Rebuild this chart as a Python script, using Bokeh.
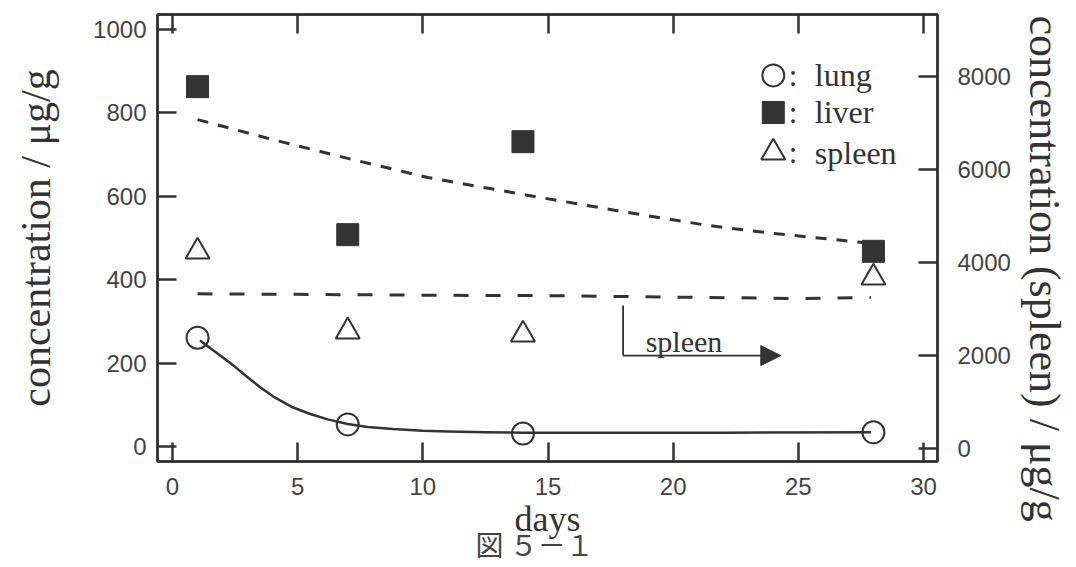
from bokeh.plotting import figure
from bokeh.models import LinearAxis, Range1d, FixedTicker, Label, Arrow, NormalHead, Title
from bokeh.core.properties import value
from bokeh.embed import file_html
from bokeh.resources import INLINE

# ---- data ----
days = [1, 7, 14, 28]
lung = [261, 53, 31, 34]            # left axis, µg/g
liver = [863, 508, 731, 468]        # left axis, µg/g
spleen = [4240, 2520, 2455, 3680]   # right axis, µg/g

lung_fit_days = [1.1, 1.5, 2.0, 2.5, 3.0, 3.5, 4.1, 4.8, 5.5, 6.2, 7, 7.8, 8.8, 10, 11, 12.5, 14, 18, 22, 27.9]
lung_fit = [254, 236, 214, 191, 166, 142, 117, 94, 78, 65, 54, 47, 42, 38, 36, 34, 33, 33, 33, 34]

liver_fit_days = [1, 4, 7, 10.2, 14.7, 15.4, 18, 21.4, 24, 27.6]
liver_fit = [784, 736, 691, 645, 597, 590, 563, 530, 511, 489]

spleen_fit_days = [1, 5, 10, 15.4, 20, 25, 27.9]
spleen_fit = [3330, 3320, 3300, 3290, 3260, 3230, 3250]

x_ticks = [0, 5, 10, 15, 20, 25, 30]
left_ticks = [0, 200, 400, 600, 800, 1000]
right_ticks = [0, 2000, 4000, 6000, 8000]

legend_names = ["lung", "liver", "spleen"]
legend_x = [24, 24, 24]
legend_y = [890, 801, 705]
legend_colon_x = 24.62
legend_name_x = 25.66

arrow_x = [18, 18, 24.3]
arrow_y = [338, 218, 218]
arrow_label = "spleen"
arrow_label_pos = (18.9, 252)

x_label = "days"
left_label = "concentration / μg/g"
right_label = "concentration (spleen) / μg/g"
caption = "図 ５－１"

INK = "#333333"
SERIF = "Liberation Serif"
SANS = "Liberation Sans"

p = figure(width=1076, height=567, output_backend="svg", toolbar_location=None,
           x_range=Range1d(-0.6, 30.56), y_range=Range1d(-36, 1036),
           min_border_left=157, min_border_right=139, min_border_top=14, min_border_bottom=106)
p.extra_y_ranges = {"right": Range1d(-280, 9345)}
p.xgrid.visible = False
p.ygrid.visible = False
p.outline_line_color = INK
p.outline_line_width = 2.5
p.background_fill_color = "white"
p.border_fill_color = "white"


def style(ax, ticks):
    ax.ticker = FixedTicker(ticks=ticks)
    ax.axis_line_color = INK
    ax.axis_line_width = 2.5
    ax.major_tick_line_color = INK
    ax.major_tick_line_width = 2.5
    ax.major_tick_in = 19
    ax.major_tick_out = 0
    ax.minor_tick_line_color = None
    ax.major_label_text_font = SANS
    ax.major_label_text_font_size = "24px"
    ax.major_label_text_color = "#444444"
    ax.axis_label_text_font = SERIF
    ax.axis_label_text_font_style = "normal"
    ax.axis_label_text_color = INK


xb = p.xaxis[0]
style(xb, x_ticks)
xb.major_label_standoff = 16

yl = p.yaxis[0]
style(yl, left_ticks)
yl.axis_label = left_label
yl.axis_label_text_font_size = "42px"
yl.major_label_standoff = 11
yl.axis_label_standoff = 31

yr = LinearAxis(y_range_name="right")
style(yr, right_ticks)
yr.major_label_standoff = 20
p.add_layout(yr, "right")

xt = LinearAxis()
style(xt, x_ticks)
xt.major_label_text_font_size = "0px"
xt.major_label_text_color = None
xt.major_label_standoff = 0
p.add_layout(xt, "above")

# axis titles placed in the side panels
p.add_layout(Title(text=right_label, align="left", offset=1, vertical_align="middle",
                   standoff=10, text_font=SERIF, text_font_size="44px",
                   text_font_style="normal", text_color=INK), "right")
p.add_layout(Title(text=x_label, align="center", vertical_align="middle", standoff=1,
                   text_font=SERIF, text_font_size="36px", text_font_style="normal",
                   text_color=INK), "below")
p.add_layout(Title(text=caption, align="left", offset=318, vertical_align="middle",
                   standoff=-36, text_font="Noto Sans CJK JP", text_font_size="28px",
                   text_font_style="normal", text_color="#444444"), "below")

# fitted curves
p.line(lung_fit_days, lung_fit, line_color=INK, line_width=2.5, line_join="round")
p.line(liver_fit_days, liver_fit, line_color=INK, line_width=3, line_dash="11 10")
p.line(spleen_fit_days, spleen_fit, y_range_name="right", line_color=INK,
       line_width=3, line_dash="15 17")

# measured points
p.scatter(days, lung, marker="circle", size=22, fill_color=None, line_color=INK, line_width=2)
p.scatter(days, liver, marker="square", size=22, fill_color=INK, line_color=INK)
p.scatter(days, spleen, y_range_name="right", marker="triangle", size=24,
          fill_color=None, line_color=INK, line_width=2)

# legend (drawn manually)
p.scatter([legend_x[0]], [legend_y[0]], marker="circle", size=22, fill_color=None, line_color=INK, line_width=2)
p.scatter([legend_x[1]], [legend_y[1]], marker="square", size=22, fill_color=INK, line_color=INK)
p.scatter([legend_x[2]], [legend_y[2]], marker="triangle", size=24, fill_color=None, line_color=INK, line_width=2)
p.text(x=[legend_colon_x] * 3, y=legend_y, text=[":"] * 3, text_baseline="middle",
       text_font=value(SERIF), text_font_size="31px", text_color=INK)
p.text(x=[legend_name_x] * 3, y=legend_y, text=legend_names, text_baseline="middle",
       text_font=value(SERIF), text_font_size="32px", text_color=INK)

# spleen -> right axis marker
p.line(arrow_x[:2], arrow_y[:2], line_color=INK, line_width=1.8)
p.add_layout(Arrow(end=NormalHead(size=20, fill_color=INK, line_color=INK),
                   x_start=arrow_x[1], y_start=arrow_y[1], x_end=arrow_x[2], y_end=arrow_y[2],
                   line_color=INK, line_width=1.8))
p.add_layout(Label(x=arrow_label_pos[0], y=arrow_label_pos[1], text=arrow_label,
                   text_font=SERIF, text_font_size="30px", text_color=INK,
                   text_baseline="alphabetic"))

open("out.html", "w").write(file_html(p, INLINE))
